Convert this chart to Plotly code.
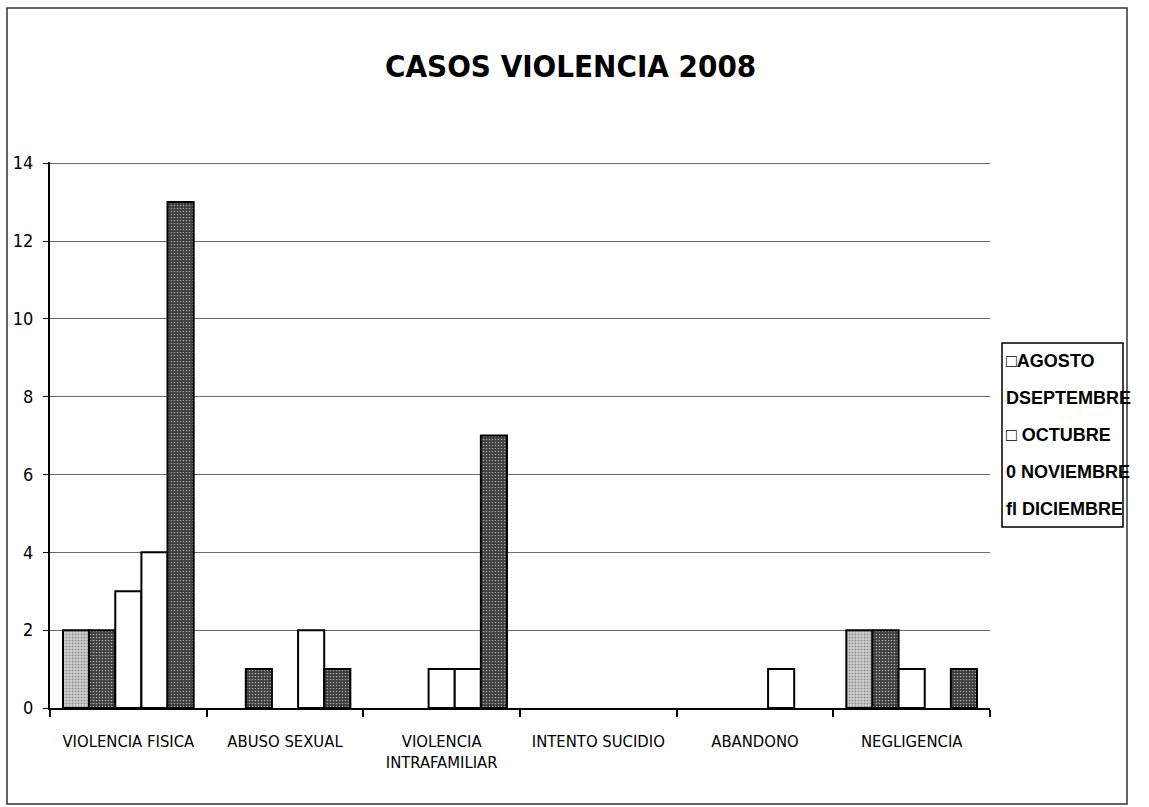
import plotly.graph_objects as go

# Case categories (x axis) and monthly counts for 2008
categorias = [
    "VIOLENCIA FISICA",
    "ABUSO SEXUAL",
    "VIOLENCIA<br>INTRAFAMILIAR",
    "INTENTO SUCIDIO",
    "ABANDONO",
    "NEGLIGENCIA",
]
meses = ["AGOSTO", "SEPTIEMBRE", "OCTUBRE", "NOVIEMBRE", "DICIEMBRE"]
agosto = [2, 0, 0, 0, 0, 2]
septiembre = [2, 1, 0, 0, 0, 2]
octubre = [3, 0, 1, 0, 0, 1]
noviembre = [4, 2, 1, 0, 1, 0]
diciembre = [13, 1, 7, 0, 0, 1]
valores = [agosto, septiembre, octubre, noviembre, diciembre]

# Legend lines exactly as printed beside the chart
leyenda = ["\u25a1AGOSTO", "DSEPTEMBRE", "\u25a1 OCTUBRE", "0 NOVIEMBRE", "fl DICIEMBRE"]

# Fill style per month: (background, dot colour, dot solidity)
estilos = [
    ("#d4d4d4", "#8a8a8a", 0.35),
    ("#3c3c3c", "#a8a8a8", 0.25),
    ("#ffffff", "#ffffff", 0.0),
    ("#ffffff", "#ffffff", 0.0),
    ("#3a3a3a", "#a0a0a0", 0.25),
]

W, H = 1149, 807
L, R, T, B = 50, 990, 162, 708  # plot area in pixels
NARROW = "Liberation Sans Narrow, DejaVu Sans Condensed, Arial Narrow, Liberation Sans, sans-serif"
BOLD = "Liberation Sans, Arial, DejaVu Sans, sans-serif"


def px_x(x):
    return (x - L) / (R - L)


def px_y(y):
    return (B - y) / (B - T)


fig = go.Figure()
for mes, vals, (bg, fg, sol) in zip(meses, valores, estilos):
    fig.add_trace(
        go.Bar(
            name=mes,
            x=categorias,
            y=vals,
            marker=dict(
                color=bg,
                # empty months leave no outline on the baseline
                line=dict(color="#000000", width=[2 if v > 0 else 0 for v in vals]),
                pattern=dict(
                    shape="." if sol > 0 else "",
                    bgcolor=bg,
                    fgcolor=fg,
                    size=3,
                    solidity=sol if sol > 0 else 0.3,
                    fillmode="replace",
                ),
            ),
            showlegend=False,
        )
    )

fig.update_layout(
    width=W,
    height=H,
    autosize=False,
    paper_bgcolor="white",
    plot_bgcolor="white",
    margin=dict(l=L, r=W - R, t=T, b=H - B, pad=0),
    barmode="group",
    bargap=0.166,
    bargroupgap=0,
    font=dict(family=NARROW, size=17, color="#000000"),
)

fig.update_xaxes(
    type="category",
    showline=True,
    linecolor="#000000",
    linewidth=1.5,
    ticks="outside",
    tickson="boundaries",
    ticklen=7,
    tickcolor="#000000",
    tickwidth=1.5,
    ticklabelstandoff=17,
    showgrid=False,
    tickfont=dict(family=NARROW, size=16.5, color="#000000"),
)
fig.update_yaxes(
    range=[0, 14.03],
    tickvals=[0, 2, 4, 6, 8, 10, 12, 14],
    showline=True,
    linecolor="#000000",
    linewidth=2,
    ticks="outside",
    ticklen=5,
    tickcolor="#000000",
    showgrid=True,
    gridcolor="#6a6a6a",
    gridwidth=1.2,
    zeroline=False,
    ticklabelstandoff=6,
    tickfont=dict(family=NARROW, size=18, color="#000000"),
)

shapes = [
    # outer frame around the whole chart
    dict(
        type="rect", xref="paper", yref="paper",
        x0=px_x(7), x1=px_x(1127), y0=px_y(804), y1=px_y(8),
        line=dict(color="#333333", width=1.5), fillcolor="rgba(0,0,0,0)",
    ),
    # legend box
    dict(
        type="rect", xref="paper", yref="paper",
        x0=px_x(1002), x1=px_x(1123), y0=px_y(527), y1=px_y(343),
        line=dict(color="#000000", width=1.5), fillcolor="rgba(0,0,0,0)",
    ),
]

annotations = [
    dict(
        text="<b>CASOS VIOLENCIA 2008</b>",
        xref="paper", yref="paper",
        x=px_x(570), y=px_y(66),
        xanchor="center", yanchor="middle",
        showarrow=False,
        font=dict(family=NARROW, size=31, color="#000000"),
    )
]
for i, txt in enumerate(leyenda):
    annotations.append(
        dict(
            text="<b>" + txt + "</b>",
            xref="paper", yref="paper",
            x=px_x(1004), y=px_y(361 + i * 37),
            xanchor="left", yanchor="middle",
            showarrow=False,
            font=dict(family=BOLD, size=18, color="#000000"),
        )
    )

fig.update_layout(shapes=shapes, annotations=annotations)

fig.write_html("out.html")
